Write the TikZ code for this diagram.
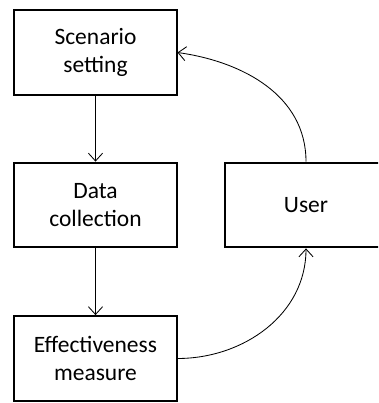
\documentclass[tikz,border=0pt]{standalone}
\usepackage{fontspec}
\setmainfont{Carlito}
\usetikzlibrary{arrows.meta}
\tikzset{
	stage/.style={draw, line width=1.4pt, minimum width=4.05cm, minimum height=2.12cm, align=center, inner sep=0pt, font=\fontsize{16.7}{20.4}\selectfont},
	flow/.style={line width=0.6pt, -{Straight Barb[length=5.5pt,width=10pt]}}
}

\begin{document}
\begin{tikzpicture}[x=0.025cm, y=-0.025cm]
		%%%%% START %%%%%
		\useasboundingbox (0, 0) rectangle (378, 403);
		\clip (0, 0) rectangle (378, 403);
		
		\node[stage] (scenario) at (95.5, 52.5) {Scenario\\setting};
		\node[stage] (data) at (95.5, 205) {Data\\collection};
		\node[stage] (effect) at (95.5, 358.5) {Effectiveness\\measure};
		\node[stage] (user) at (306, 205) {User};
		
		\draw[flow] (scenario) -- (data);
		\draw[flow] (data) -- (effect);
		
		\draw[flow] (effect.east) to[out=0, in=-90] (user.south);
		\draw[flow] (user.north) to[out=90, in=-8] (scenario.east);
		
		%%%%% END %%%%%
	\end{tikzpicture}
\end{document}
